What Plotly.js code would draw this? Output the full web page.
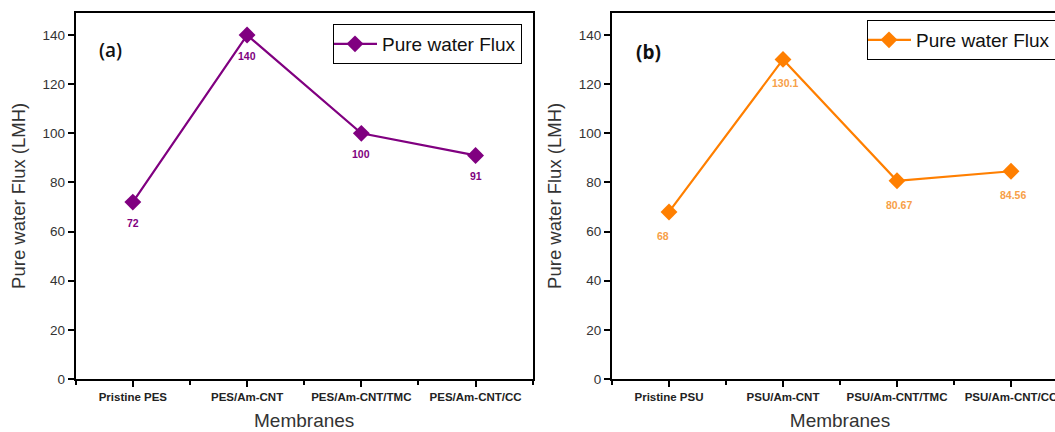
<!DOCTYPE html>
<html>
<head>
<meta charset="utf-8">
<script src="https://cdn.plot.ly/plotly-3.0.1.min.js"></script>
<style>
html,body{margin:0;padding:0;overflow:hidden;background:#fff;width:1055px;height:432px;}
#chart{width:1075px;height:432px;}
</style>
</head>
<body>
<div id="chart"></div>
<script>
// ---- data ----
const categoriesA = ["Pristine PES", "PES/Am-CNT", "PES/Am-CNT/TMC", "PES/Am-CNT/CC"];
const fluxA = [72, 140, 100, 91];
const labelsA = ["72", "140", "100", "91"];

const categoriesB = ["Pristine PSU", "PSU/Am-CNT", "PSU/Am-CNT/TMC", "PSU/Am-CNT/CC"];
const fluxB = [68, 130.1, 80.67, 84.56];
const labelsB = ["68", "130.1", "80.67", "84.56"];

const seriesName = "Pure water Flux";
const yTitle = "Pure water Flux (LMH)";
const xTitle = "Membranes";
const yTicks = [0, 20, 40, 60, 80, 100, 120, 140];

// ---- styles ----
const W = 1075, H = 432;
const purple = "#800080";
const orange = "#FF7F00";
const orangeLabel = "#F7A048";
const FONT = "Arial, 'Liberation Sans', sans-serif";

const idxA = categoriesA.map((c, i) => i);
const idxB = categoriesB.map((c, i) => i);

const traces = [
  {
    x: idxA, y: fluxA, type: "scatter", mode: "lines+markers", name: seriesName,
    line: {color: purple, width: 2.2},
    marker: {symbol: "diamond", size: 13, color: purple},
    xaxis: "x", yaxis: "y", legend: "legend", hoverinfo: "skip"
  },
  {
    x: idxB, y: fluxB, type: "scatter", mode: "lines+markers", name: seriesName,
    line: {color: orange, width: 2.2},
    marker: {symbol: "diamond", size: 13, color: orange},
    xaxis: "x2", yaxis: "y2", legend: "legend2", hoverinfo: "skip"
  }
];

function xAxis(domain, cats) {
  return {
    domain: domain, range: [-0.5, 3.5], type: "linear",
    tickvals: cats.map((c, i) => i), ticktext: cats,
    tickfont: {family: FONT, size: 11.5, color: "#222", weight: "bold"},
    ticks: "outside", ticklen: 6, tickwidth: 2, tickcolor: "#000",
    minor: {tickmode: "linear", tick0: 0.5, dtick: 1, ticks: "outside", ticklen: 4, tickwidth: 2, tickcolor: "#000"},
    showline: true, linecolor: "#000", linewidth: 2, mirror: true,
    showgrid: false, zeroline: false, fixedrange: true,
    title: {text: xTitle, font: {family: FONT, size: 19, color: "#333"}, standoff: 12},
    automargin: false
  };
}
function yAxis(domain, anchor) {
  return {
    domain: domain, range: [0, 149.1], anchor: anchor,
    tickvals: yTicks,
    tickfont: {family: FONT, size: 13.5, color: "#333"},
    ticks: "outside", ticklen: 6, tickwidth: 2, tickcolor: "#000",
    showline: true, linecolor: "#000", linewidth: 2, mirror: true,
    showgrid: false, zeroline: false, fixedrange: true,
    title: {text: yTitle, font: {family: FONT, size: 18.5, color: "#333"}, standoff: 12},
    automargin: false
  };
}

const yDom = [(H - 379) / H, (H - 12.7) / H];

const annotations = [];
idxA.forEach((i) => {
  annotations.push({x: i, y: fluxA[i], xref: "x", yref: "y", text: labelsA[i], showarrow: false,
    yshift: -21, font: {family: FONT, size: 10.5, color: purple, weight: "bold"}});
});
idxB.forEach((i) => {
  annotations.push({x: i, y: fluxB[i], xref: "x2", yref: "y2", text: labelsB[i], showarrow: false,
    yshift: -24, xshift: i === 0 ? -6 : 2, font: {family: FONT, size: 10.5, color: orangeLabel, weight: "bold"}});
});
annotations.push({x: 110 / W, y: 1 - 50 / H, xref: "paper", yref: "paper", xanchor: "center", yanchor: "middle",
  text: "(a)", showarrow: false,
  font: {family: "'Open Sans', Arial, sans-serif", size: 19, color: "#111", weight: 600}});
annotations.push({x: 648 / W, y: 1 - 52 / H, xref: "paper", yref: "paper", xanchor: "center", yanchor: "middle",
  text: "(b)", showarrow: false,
  font: {family: "'Open Sans', Arial, sans-serif", size: 19, color: "#111", weight: "bold"}});

const legendBase = {
  bgcolor: "#fff", bordercolor: "#000", borderwidth: 1,
  font: {family: FONT, size: 19, color: "#111"},
  xanchor: "left", yanchor: "top", itemwidth: 44, tracegroupgap: 0,
  indentation: -6
};

const layout = {
  width: W, height: H,
  margin: {l: 0, r: 0, t: 0, b: 0, pad: 0},
  paper_bgcolor: "#fff", plot_bgcolor: "#fff",
  showlegend: true,
  xaxis: xAxis([75.7 / W, 532.7 / W], categoriesA),
  yaxis: yAxis(yDom, "x"),
  xaxis2: Object.assign(xAxis([612 / W, 1068 / W], categoriesB), {anchor: "y2"}),
  yaxis2: yAxis(yDom, "x2"),
  legend: Object.assign({}, legendBase, {x: 333 / W, y: 1 - 24 / H}),
  legend2: Object.assign({}, legendBase, {x: 867 / W, y: 1 - 20 / H}),
  annotations: annotations
};
layout.xaxis.anchor = "y";

Plotly.newPlot("chart", traces, layout, {staticPlot: true, displayModeBar: false});
</script>
</body>
</html>
